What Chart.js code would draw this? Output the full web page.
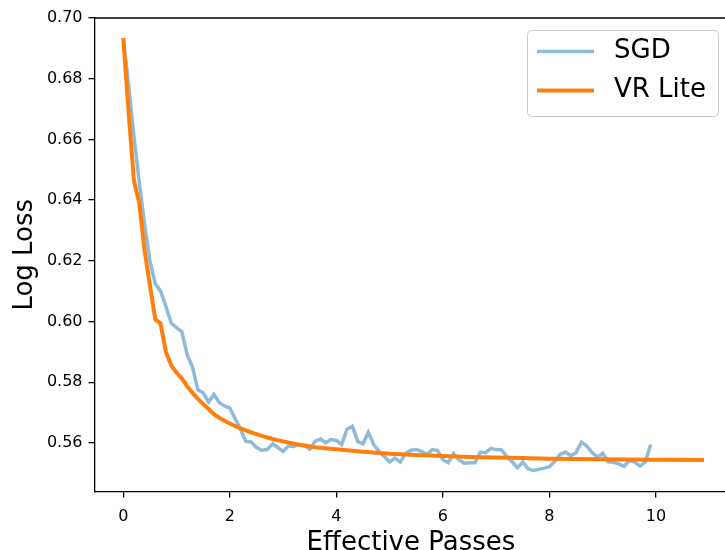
<!DOCTYPE html>
<html>
<head>
<meta charset="utf-8">
<script src="https://cdn.jsdelivr.net/npm/chart.js@4"></script>
<style>
  html, body { margin: 0; padding: 0; overflow: hidden; background: #fff; }
  #wrap { position: absolute; left: 0; top: 0; width: 740px; height: 560px; }
</style>
</head>
<body>
<div id="wrap"><canvas id="lossChart"></canvas></div>
<script>
// SGD: loss sampled every 0.1 effective passes
const sgdPasses = [
  0.0, 0.1, 0.2, 0.3, 0.4, 0.5, 0.6, 0.7, 0.8, 0.9,
  1.0, 1.1, 1.2, 1.3, 1.4, 1.5, 1.6, 1.7, 1.8, 1.9,
  2.0, 2.1, 2.2, 2.3, 2.4, 2.5, 2.6, 2.7, 2.8, 2.9,
  3.0, 3.1, 3.2, 3.3, 3.4, 3.5, 3.6, 3.7, 3.8, 3.9,
  4.0, 4.1, 4.2, 4.3, 4.4, 4.5, 4.6, 4.7, 4.8, 4.9,
  5.0, 5.1, 5.2, 5.3, 5.4, 5.5, 5.6, 5.7, 5.8, 5.9,
  6.0, 6.1, 6.2, 6.3, 6.4, 6.5, 6.6, 6.7, 6.8, 6.9,
  7.0, 7.1, 7.2, 7.3, 7.4, 7.5, 7.6, 7.7, 7.8, 7.9,
  8.0, 8.1, 8.2, 8.3, 8.4, 8.5, 8.6, 8.7, 8.8, 8.9,
  9.0, 9.1, 9.2, 9.3, 9.4, 9.5, 9.6, 9.7, 9.8, 9.9
];
const sgdLoss = [
  0.6934, 0.678, 0.661, 0.646, 0.632, 0.620, 0.6125, 0.610, 0.605, 0.5995,
  0.598, 0.5966, 0.589, 0.585, 0.5775, 0.5765, 0.5735, 0.576, 0.5733, 0.5722,
  0.5715, 0.568, 0.5645, 0.5605, 0.5603, 0.5585, 0.5576, 0.5578, 0.5597, 0.5585,
  0.5572, 0.559, 0.5588, 0.5595, 0.5592, 0.5579, 0.5605, 0.5613, 0.5601, 0.5611,
  0.5608, 0.5595, 0.5645, 0.5655, 0.5605, 0.5597, 0.5635, 0.5595, 0.5572, 0.5555,
  0.5537, 0.555, 0.5537, 0.5565, 0.5576, 0.5578, 0.5572, 0.5562, 0.5578, 0.5575,
  0.5545, 0.5535, 0.5565, 0.5545, 0.5533, 0.5535, 0.5535, 0.557, 0.5568, 0.5582,
  0.5578, 0.5577, 0.5555, 0.5538, 0.5518, 0.5537, 0.5515, 0.5509, 0.5513, 0.5517,
  0.5522, 0.554, 0.5562, 0.557, 0.5558, 0.5568, 0.5603, 0.559, 0.5568, 0.5553,
  0.5566, 0.5538, 0.5536, 0.5531, 0.5523, 0.5542, 0.5537, 0.5524, 0.5538, 0.5595
];

// VR Lite: smooth curve, denser samples where it falls fast
const vrPasses = [
  0.0, 0.1, 0.2, 0.3, 0.4, 0.5, 0.6, 0.7, 0.8, 0.9,
  1.0, 1.1, 1.2, 1.3, 1.4, 1.5, 1.6, 1.7, 1.8, 1.9,
  2.0, 2.2, 2.4, 2.6, 2.8, 3.0, 3.3, 3.6, 4.0, 4.5,
  5.0, 5.5, 6.0, 6.5, 7.0, 7.5, 8.0, 9.0, 10.0, 10.9
];
const vrLoss = [
  0.6934, 0.669, 0.6465, 0.639, 0.6235, 0.612, 0.6008, 0.5993, 0.590, 0.5855,
  0.5832, 0.5812, 0.5787, 0.5765, 0.5745, 0.5728, 0.5712, 0.5695, 0.5683, 0.5673,
  0.5664, 0.5648, 0.5635, 0.5623, 0.5613, 0.5605, 0.5594, 0.5586, 0.5579, 0.5571,
  0.5564, 0.556, 0.5557, 0.5554, 0.5552, 0.555, 0.5548, 0.5546, 0.5545, 0.5544
];

const xTicks = [0, 2, 4, 6, 8, 10];
const yTicks = [0.56, 0.58, 0.60, 0.62, 0.64, 0.66, 0.68, 0.70];

const SGD_COLOR = "rgba(31,119,180,0.5)";
const VR_COLOR = "#ff7f0e";
const FONT = "DejaVu Sans";

// zip x/y arrays into point objects
function points(xs, ys) {
  return xs.map((x, i) => ({ x, y: ys[i] }));
}

// top spine (the right one sits just past the window edge)
const frame = {
  id: "frame",
  afterDraw(chart) {
    const { ctx, chartArea: a } = chart;
    ctx.save();
    ctx.strokeStyle = "#000";
    ctx.lineWidth = 1.3;
    ctx.beginPath();
    ctx.moveTo(a.left, a.top);
    ctx.lineTo(a.right, a.top);
    ctx.stroke();
    ctx.restore();
  }
};

// legend box in the upper right corner of the plot
const innerLegend = {
  id: "innerLegend",
  afterDraw(chart) {
    const ctx = chart.ctx;
    const entries = [
      { label: "SGD", color: SGD_COLOR, width: 3.5, y: 51.5 },
      { label: "VR Lite", color: VR_COLOR, width: 4, y: 90.5 }
    ];
    ctx.save();
    ctx.beginPath();
    ctx.roundRect(527.5, 30.5, 191, 86, 4);
    ctx.fillStyle = "rgba(255,255,255,0.8)";
    ctx.fill();
    ctx.strokeStyle = "#cccccc";
    ctx.lineWidth = 1;
    ctx.stroke();

    ctx.font = `26px "${FONT}"`;
    ctx.textBaseline = "middle";
    ctx.fillStyle = "#000";
    entries.forEach(e => {
      ctx.beginPath();
      ctx.moveTo(537, e.y);
      ctx.lineTo(594, e.y);
      ctx.strokeStyle = e.color;
      ctx.lineWidth = e.width;
      ctx.stroke();
      ctx.fillText(e.label, 614, e.y);
    });
    ctx.restore();
  }
};

const axisLine = { color: "#000", width: 1.3 };
const tickGrid = { drawOnChartArea: false, drawTicks: true, tickLength: 6, color: "#000", lineWidth: 1.3 };

new Chart(document.getElementById("lossChart"), {
  type: "line",
  data: {
    datasets: [
      {
        label: "VR Lite",
        data: points(vrPasses, vrLoss),
        borderColor: VR_COLOR,
        borderWidth: 4,
        pointRadius: 0,
        tension: 0,
        fill: false
      },
      {
        label: "SGD",
        data: points(sgdPasses, sgdLoss),
        borderColor: SGD_COLOR,
        borderWidth: 3.5,
        pointRadius: 0,
        tension: 0,
        fill: false
      }
    ]
  },
  options: {
    responsive: true,
    maintainAspectRatio: false,
    animation: false,
    layout: { padding: { top: 18, right: 12.6, left: 0, bottom: 0 } },
    plugins: {
      legend: { display: false },
      tooltip: { enabled: false }
    },
    scales: {
      x: {
        type: "linear",
        min: -0.54,
        max: 11.34,
        afterBuildTicks: s => { s.ticks = xTicks.map(v => ({ value: v })); },
        afterFit: s => { s.height = 68.5; },
        ticks: {
          font: { family: FONT, size: 16 },
          color: "#000",
          padding: 10,
          maxRotation: 0,
          callback: v => String(v)
        },
        grid: tickGrid,
        border: axisLine,
        title: {
          display: true,
          text: "Effective Passes",
          color: "#000",
          font: { family: FONT, size: 26 },
          padding: { top: 0, bottom: 1 }
        }
      },
      y: {
        min: 0.544,
        max: 0.70,
        afterBuildTicks: s => { s.ticks = yTicks.map(v => ({ value: v })); },
        afterFit: s => { s.width = 94.5; },
        ticks: {
          font: { family: FONT, size: 16 },
          color: "#000",
          padding: 6,
          callback: v => v.toFixed(2)
        },
        grid: tickGrid,
        border: axisLine,
        title: {
          display: true,
          text: "Log Loss",
          color: "#000",
          font: { family: FONT, size: 26 },
          padding: { top: 9.5, bottom: 0 }
        }
      }
    }
  },
  plugins: [frame, innerLegend]
});
</script>
</body>
</html>
